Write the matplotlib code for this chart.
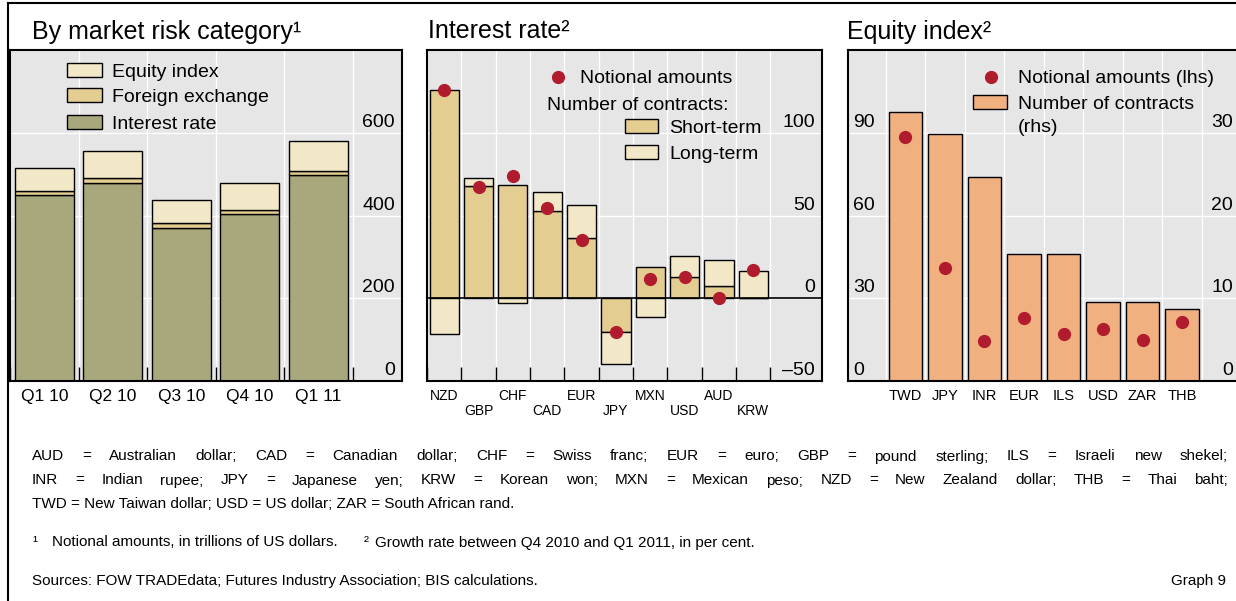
import matplotlib
matplotlib.use("Agg")
import matplotlib.pyplot as plt
import matplotlib.transforms as mtransforms
from matplotlib.patches import Rectangle
from matplotlib.lines import Line2D
import numpy as np

plt.rcParams['font.family'] = ['Liberation Sans', 'DejaVu Sans']

# panel 1: notional amounts by market risk category
quarters = ["Q1 10", "Q2 10", "Q3 10", "Q4 10", "Q1 11"]
ir_notional = [450, 479, 370, 403, 498]
fx_notional = [10, 12, 12, 10, 10]
eq_notional = [55, 65, 56, 66, 73]

# panel 2: interest rate growth rates
ir_ccy = ["NZD", "GBP", "CHF", "CAD", "EUR", "JPY", "MXN", "USD", "AUD", "KRW"]
short_term = [125.6, 67.8, 68.2, 52.6, 36.6, -20.4, 18.8, 13.0, 7.4, 0.0]
long_term = [-21.4, 4.6, -2.6, 11.4, 19.8, -19.6, -11.2, 12.4, 15.8, 16.6]
ir_amounts = [125.6, 67.0, 74.0, 54.8, 35.0, -20.2, 11.4, 13.0, 0.0, 17.2]

# panel 3: equity index growth rates
eq_ccy = ["TWD", "JPY", "INR", "EUR", "ILS", "USD", "ZAR", "THB"]
eq_contracts = [32.5, 29.9, 24.7, 15.4, 15.4, 9.6, 9.5, 8.7]
eq_amounts = [88.3, 40.8, 14.5, 22.9, 17.2, 18.9, 14.8, 21.3]

C_BG = "#E6E6E6"
C_IR = "#A8A87C"
C_SHORT = "#E3CD91"
C_LONG = "#F2E8C8"
C_EQ = "#F0B080"
C_DOT = "#B01C2E"

W, H = 1236, 601
fig = plt.figure(figsize=(W / 100, H / 100), dpi=100)


def px_axes(x0, x1, y0, y1):
    return fig.add_axes([x0 / W, 1 - y1 / H, (x1 - x0) / W, (y1 - y0) / H])


def style(ax, n, xlim, ylim, yticks, tick_len=10):
    ax.set_facecolor(C_BG)
    ax.set_xlim(*xlim)
    ax.set_ylim(*ylim)
    ax.set_xticks(np.arange(n))
    ax.set_xticks(np.arange(n + 1) - 0.5, minor=True)
    ax.set_yticks(yticks)
    ax.tick_params(axis="x", which="major", length=0)
    ax.tick_params(axis="x", which="minor", direction="in", length=tick_len,
                   width=1, color="black")
    ax.tick_params(axis="y", length=0, labelleft=False, labelright=False)
    ax.grid(axis="x", which="minor", color="white", lw=1)
    ax.grid(axis="y", which="major", color="white", lw=1)
    ax.set_axisbelow(True)
    for s in ax.spines.values():
        s.set_linewidth(1.5)
        s.set_color("black")


def ylabels(ax, values, labels, side, dx):
    if side == "right":
        x, ha = 1, "right"
    else:
        x, ha = 0, "left"
    trans = mtransforms.blended_transform_factory(ax.transAxes, ax.transData)
    off = mtransforms.ScaledTranslation(dx / 100, 6 / 100, fig.dpi_scale_trans)
    for v, lab in zip(values, labels):
        ax.text(x, v, lab, transform=trans + off, ha=ha, va="baseline",
                fontsize=14, zorder=5)


def ftext(x, y, s, **kw):
    return fig.text(x / W, 1 - y / H, s, **kw)


def frect(x0, y0, x1, y1, fc):
    fig.add_artist(Rectangle((x0 / W, 1 - y1 / H), (x1 - x0) / W, (y1 - y0) / H,
                             transform=fig.transFigure, fc=fc, ec="black", lw=1))


def fdot(x, y):
    fig.add_artist(Line2D([x / W], [1 - y / H], transform=fig.transFigure,
                          marker="o", ms=8.5, color=C_DOT, ls="none"))


# ---- panel 1
ax1 = px_axes(10, 402, 50, 381)
style(ax1, 5, (-0.5, 5.22), (0, 800), [0, 200, 400, 600])
x = np.arange(5)
ir = np.array(ir_notional)
fx = np.array(fx_notional)
eq = np.array(eq_notional)
ax1.bar(x, ir, 0.86, color=C_IR, ec="black", lw=1)
ax1.bar(x, fx, 0.86, bottom=ir, color=C_SHORT, ec="black", lw=1)
ax1.bar(x, eq, 0.86, bottom=ir + fx, color=C_LONG, ec="black", lw=1)
ax1.set_xticklabels(quarters, fontsize=12.5)
ax1.tick_params(axis="x", which="major", pad=5.5)
ylabels(ax1, [0, 200, 400, 600], ["0", "200", "400", "600"], "right", -7)

# ---- panel 2
ax2 = px_axes(427, 822, 50, 381)
style(ax2, 10, (-0.5, 11.0), (-50, 150), [-50, 0, 50, 100])
x = np.arange(10)
st = np.array(short_term)
lt = np.array(long_term)
lt_bottom = np.where((np.sign(st) == np.sign(lt)) & (st != 0), st, 0)
ax2.bar(x, st, 0.85, color=C_SHORT, ec="black", lw=1, zorder=2)
ax2.bar(x, lt, 0.85, bottom=lt_bottom, color=C_LONG, ec="black", lw=1, zorder=2)
ax2.axhline(0, color="black", lw=1.2, zorder=3)
ax2.plot(x, ir_amounts, "o", ms=8.5, color=C_DOT, zorder=4)
ax2.set_xticklabels([c if i % 2 == 0 else "\n" + c for i, c in enumerate(ir_ccy)],
                    fontsize=10, linespacing=1.1)
ax2.tick_params(axis="x", which="major", pad=5.5)
ylabels(ax2, [-50, 0, 50, 100], ["\u201350", "0", "50", "100"], "right", -7)

# ---- panel 3
ax3 = px_axes(848, 1238, 50, 381)
style(ax3, 8, (-1.45, 8.41), (0, 40), [10, 20, 30], tick_len=0)
x = np.arange(8)
ax3.bar(x, eq_contracts, 0.85, color=C_EQ, ec="black", lw=1, zorder=2)
ax3.set_xticklabels(eq_ccy, fontsize=10.5)
ax3.tick_params(axis="x", which="major", pad=5.8)
ax3d = ax3.twinx()
ax3d.set_ylim(0, 120)
ax3d.set_yticks([])
for s in ax3d.spines.values():
    s.set_visible(False)
ax3d.plot(x, eq_amounts, "o", ms=8.5, color=C_DOT, zorder=4)
ylabels(ax3, [0, 10, 20, 30], ["0", "10", "20", "30"], "right", -5)
ylabels(ax3d, [0, 30, 60, 90], ["0", "30", "60", "90"], "left", 5)

# ---- titles
ftext(32, 38.5, "By market risk category\u00b9", fontsize=18, va="baseline")
ftext(428, 38.5, "Interest rate\u00b2", fontsize=18, va="baseline")
ftext(847, 38.5, "Equity index\u00b2", fontsize=18, va="baseline")

# ---- legends
lfs = 14
frect(67, 63, 102, 77, C_LONG)
ftext(112, 77, "Equity index", fontsize=lfs, va="baseline")
frect(67, 88, 102, 102, C_SHORT)
ftext(112, 102, "Foreign exchange", fontsize=lfs, va="baseline")
frect(67, 115, 102, 129, C_IR)
ftext(112, 129, "Interest rate", fontsize=lfs, va="baseline")

fdot(558, 76.7)
ftext(580, 83.3, "Notional amounts", fontsize=lfs, va="baseline")
ftext(547, 110, "Number of contracts:", fontsize=lfs, va="baseline")
frect(625, 119, 658, 132.7, C_SHORT)
ftext(669, 132.7, "Short-term", fontsize=lfs, va="baseline")
frect(625, 145.3, 658, 159, C_LONG)
ftext(669, 159, "Long-term", fontsize=lfs, va="baseline")

fdot(991, 76.7)
ftext(1018, 83.3, "Notional amounts (lhs)", fontsize=lfs, va="baseline")
frect(973, 95.3, 1007, 109.3, C_EQ)
ftext(1018, 109.3, "Number of contracts", fontsize=lfs, va="baseline")
ftext(1018, 131.7, "(rhs)", fontsize=lfs, va="baseline")

# ---- frame
fig.add_artist(Line2D([8 / W, 1], [1 - 3 / H, 1 - 3 / H], transform=fig.transFigure,
                      color="black", lw=1.5))
fig.add_artist(Line2D([8 / W, 8 / W], [0, 1 - 3 / H], transform=fig.transFigure,
                      color="black", lw=1.5))

# ---- footnotes
nfs = 11
X0, X1 = 32, 1228
renderer = fig.canvas.get_renderer()


def width_px(t):
    return t.get_window_extent(renderer).width


def justified(line, y):
    words = line.split(" ")
    texts = [ftext(X0, y, w, fontsize=nfs, va="baseline") for w in words]
    widths = [width_px(t) for t in texts]
    gap = (X1 - X0 - sum(widths)) / (len(words) - 1)
    pos = X0
    for t, w in zip(texts, widths):
        t.set_x(pos / W)
        pos += w + gap


justified("AUD = Australian dollar; CAD = Canadian dollar; CHF = Swiss franc; EUR = euro; "
          "GBP = pound sterling; ILS = Israeli new shekel;", 460.5)
justified("INR = Indian rupee; JPY = Japanese yen; KRW = Korean won; MXN = Mexican peso; "
          "NZD = New Zealand dollar; THB = Thai baht;", 484.5)
ftext(X0, 508.5, "TWD = New Taiwan dollar; USD = US dollar; ZAR = South African rand.",
      fontsize=nfs, va="baseline")

ftext(X0, 546.5, "\u00b9", fontsize=nfs, va="baseline")
t1 = ftext(52, 546.5, "Notional amounts, in trillions of US dollars.",
           fontsize=nfs, va="baseline")
x2 = 52 + width_px(t1) + 26
ftext(x2, 546.5, "\u00b2", fontsize=nfs, va="baseline")
ftext(x2 + 11, 546.5, "Growth rate between Q4 2010 and Q1 2011, in per cent.",
      fontsize=nfs, va="baseline")

ftext(X0, 585.5, "Sources: FOW TRADEdata; Futures Industry Association; BIS calculations.",
      fontsize=nfs, va="baseline")
ftext(1226, 585.5, "Graph 9", fontsize=nfs, va="baseline", ha="right")

fig.savefig("out.png", dpi=100)
